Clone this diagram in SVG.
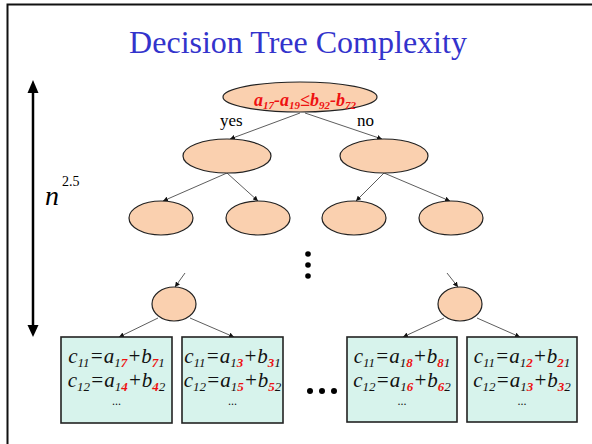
<svg xmlns="http://www.w3.org/2000/svg" width="592" height="444" viewBox="0 0 592 444">
<defs>
<style>
.node{fill:#fad0af;stroke:#222;stroke-width:1.2}
.box{fill:#d7f3ec;stroke:#222;stroke-width:1.6}
.edge{stroke:#333;stroke-width:0.8;fill:none;marker-end:url(#ah)}
.bt{font-family:"Liberation Serif",serif;font-style:italic;font-size:21px;fill:#111;text-anchor:middle}
.s{font-size:13px}
.r{fill:#ee1111;font-weight:bold}
.dots{font-family:"Liberation Serif",serif;font-size:12px;fill:#111;text-anchor:middle}
.serif{font-family:"Liberation Serif",serif}
</style>
<marker id="ah" viewBox="0 0 10 10" refX="10" refY="5" markerWidth="5" markerHeight="5" orient="auto" markerUnits="userSpaceOnUse">
<path d="M0,0 L10,5 L0,10 z" fill="#111"/>
</marker>
</defs>
<rect x="0" y="0" width="592" height="444" fill="#fff"/>
<path d="M7.5,444 V4.5 H592" fill="none" stroke="#111" stroke-width="2"/>
<text class="serif" x="298" y="53" font-size="32" fill="#3333cc" text-anchor="middle">Decision Tree Complexity</text>

<g id="height-arrow">
<line x1="33" y1="86" x2="33" y2="331" stroke="#000" stroke-width="2.5"/>
<path d="M33,80 L38.5,93 L27.5,93 z" fill="#000"/>
<path d="M33,337 L38.5,325 L27.5,325 z" fill="#000"/>
<text class="serif" x="45" y="205" font-size="28" font-style="italic" fill="#000">n</text>
<text class="serif" x="62" y="186" font-size="14" fill="#000">2.5</text>
</g>

<g id="connectors">
<line class="edge" x1="300" y1="113" x2="230" y2="139"/>
<line class="edge" x1="305" y1="113" x2="382" y2="139"/>
<line class="edge" x1="227" y1="173" x2="163" y2="201"/>
<line class="edge" x1="227" y1="173" x2="258" y2="201"/>
<line class="edge" x1="384" y1="173" x2="356" y2="201"/>
<line class="edge" x1="384" y1="173" x2="450" y2="201"/>
<line class="edge" x1="185" y1="273" x2="175" y2="287"/>
<line class="edge" x1="447" y1="273" x2="458" y2="287"/>
<line class="edge" x1="158" y1="318" x2="119" y2="337"/>
<line class="edge" x1="190" y1="318" x2="234" y2="337"/>
<line class="edge" x1="444" y1="318" x2="403" y2="337"/>
<line class="edge" x1="477" y1="318" x2="520" y2="337"/>
</g>

<g id="root">
<ellipse class="node" cx="300" cy="97" rx="77" ry="15"/>
<text class="serif" x="305" y="106" font-size="18" font-style="italic" font-weight="bold" fill="#ee1111" text-anchor="middle">a<tspan font-size="11" dy="3">17</tspan><tspan dy="-3">-a</tspan><tspan font-size="11" dy="3">19</tspan><tspan dy="-3">≤b</tspan><tspan font-size="11" dy="3">92</tspan><tspan dy="-3">-b</tspan><tspan font-size="11" dy="3">72</tspan></text>
</g>
<text class="serif" x="220" y="126" font-size="17" fill="#000">yes</text>
<text class="serif" x="357" y="126" font-size="17" fill="#000">no</text>

<g id="n-l"><ellipse class="node" cx="227" cy="156" rx="44" ry="17"/></g>
<g id="n-r"><ellipse class="node" cx="384" cy="156" rx="44" ry="17"/></g>
<g id="n-ll"><ellipse class="node" cx="161" cy="218" rx="32" ry="17"/></g>
<g id="n-lr"><ellipse class="node" cx="258" cy="218" rx="32" ry="17"/></g>
<g id="n-rl"><ellipse class="node" cx="354" cy="218" rx="32" ry="17"/></g>
<g id="n-rr"><ellipse class="node" cx="451" cy="218" rx="32" ry="17"/></g>

<g id="vdots" fill="#000">
<circle cx="308" cy="254" r="2.8"/>
<circle cx="308" cy="265" r="2.8"/>
<circle cx="308" cy="276" r="2.8"/>
</g>

<g id="n-bl"><ellipse class="node" cx="174" cy="304" rx="22" ry="17"/></g>
<g id="n-br"><ellipse class="node" cx="460" cy="304" rx="22" ry="17"/></g>

<g id="leaf1">
<rect class="box" x="61" y="337" width="111" height="86"/>
<text class="bt" x="116.5" y="363">c<tspan class="s" dy="4">11</tspan><tspan dy="-4">=a</tspan><tspan class="s" dy="4">1</tspan><tspan class="s r">7</tspan><tspan dy="-4">+b</tspan><tspan class="s r" dy="4">7</tspan><tspan class="s">1</tspan></text>
<text class="bt" x="116.5" y="387">c<tspan class="s" dy="4">12</tspan><tspan dy="-4">=a</tspan><tspan class="s" dy="4">1</tspan><tspan class="s r">4</tspan><tspan dy="-4">+b</tspan><tspan class="s r" dy="4">4</tspan><tspan class="s">2</tspan></text>
<text class="dots" x="116.5" y="405">...</text>
</g>
<g id="leaf2">
<rect class="box" x="182" y="337" width="101" height="86"/>
<text class="bt" x="232.5" y="363">c<tspan class="s" dy="4">11</tspan><tspan dy="-4">=a</tspan><tspan class="s" dy="4">1</tspan><tspan class="s r">3</tspan><tspan dy="-4">+b</tspan><tspan class="s r" dy="4">3</tspan><tspan class="s">1</tspan></text>
<text class="bt" x="232.5" y="387">c<tspan class="s" dy="4">12</tspan><tspan dy="-4">=a</tspan><tspan class="s" dy="4">1</tspan><tspan class="s r">5</tspan><tspan dy="-4">+b</tspan><tspan class="s r" dy="4">5</tspan><tspan class="s">2</tspan></text>
<text class="dots" x="232.5" y="405">...</text>
</g>
<g id="hdots" fill="#000">
<circle cx="310" cy="391" r="3"/>
<circle cx="322" cy="391" r="3"/>
<circle cx="334" cy="391" r="3"/>
</g>
<g id="leaf3">
<rect class="box" x="347" y="337" width="110" height="85"/>
<text class="bt" x="402" y="363">c<tspan class="s" dy="4">11</tspan><tspan dy="-4">=a</tspan><tspan class="s" dy="4">1</tspan><tspan class="s r">8</tspan><tspan dy="-4">+b</tspan><tspan class="s r" dy="4">8</tspan><tspan class="s">1</tspan></text>
<text class="bt" x="402" y="387">c<tspan class="s" dy="4">12</tspan><tspan dy="-4">=a</tspan><tspan class="s" dy="4">1</tspan><tspan class="s r">6</tspan><tspan dy="-4">+b</tspan><tspan class="s r" dy="4">6</tspan><tspan class="s">2</tspan></text>
<text class="dots" x="402" y="405">...</text>
</g>
<g id="leaf4">
<rect class="box" x="467" y="337" width="110" height="85"/>
<text class="bt" x="522" y="363">c<tspan class="s" dy="4">11</tspan><tspan dy="-4">=a</tspan><tspan class="s" dy="4">1</tspan><tspan class="s r">2</tspan><tspan dy="-4">+b</tspan><tspan class="s r" dy="4">2</tspan><tspan class="s">1</tspan></text>
<text class="bt" x="522" y="387">c<tspan class="s" dy="4">12</tspan><tspan dy="-4">=a</tspan><tspan class="s" dy="4">1</tspan><tspan class="s r">3</tspan><tspan dy="-4">+b</tspan><tspan class="s r" dy="4">3</tspan><tspan class="s">2</tspan></text>
<text class="dots" x="522" y="405">...</text>
</g>
</svg>
